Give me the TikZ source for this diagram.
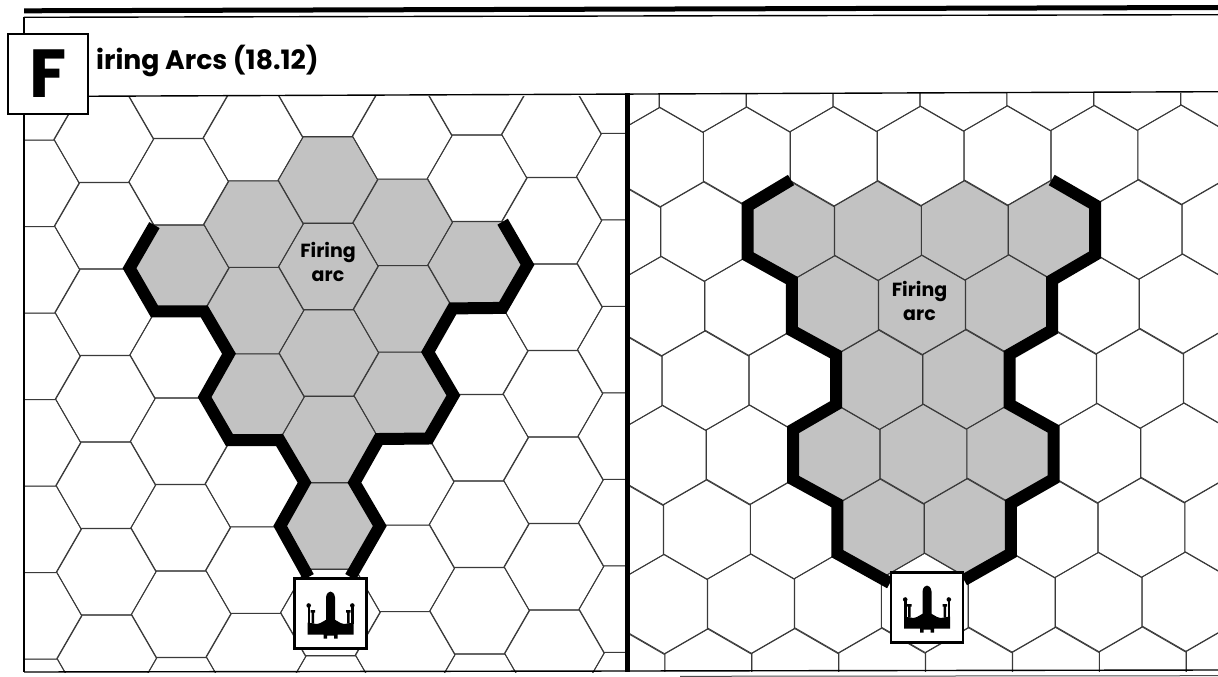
\documentclass[tikz,border=0pt]{standalone}
\usepackage{fontspec}
\setmainfont{Poppins}
\usetikzlibrary{positioning}
\definecolor{arcgray}{HTML}{C2C2C2}
\definecolor{gridink}{HTML}{3A3A3A}
\tikzset{
  panel text/.style={font=\fontsize{19}{24}\selectfont\bfseries, text=black, align=center},
  hex line/.style={draw=gridink, line width=0.9pt},
  hex gray/.style={fill=arcgray},
  arc line/.style={draw=black, line width=12pt, line join=miter},
  frame line/.style={draw=black, line width=1.4pt},
  ship box/.style={draw=black, line width=2.6pt, fill=white, minimum width=72pt, minimum height=70pt},
  flat hex/.pic={\path[pic actions] (0:49.8)--(60:49.8)--(120:49.8)--(180:49.8)--(240:49.8)--(300:49.8)--cycle;},
  tall hex/.pic={\path[pic actions] (30:50)--(90:50)--(150:50)--(210:50)--(270:50)--(330:50)--cycle;},
  ship/.pic={
    \fill (-4.5,21) -- (-4.5,-16) .. controls (-3.5,-24) and (3.5,-24) .. (4.5,-16) -- (4.5,21) -- cycle;
    \fill (-23,21) -- (-23,9) -- (-17,10) .. controls (-12,12) and (-8,8) .. (-4,6) -- (4,6)
      .. controls (8,8) and (12,12) .. (17,10) -- (23,9) -- (23,21) -- (7,21) -- (7,25) -- (3.5,25)
      -- (3.5,22) -- (-3.5,22) -- (-3.5,25) -- (-7,25) -- (-7,21) -- cycle;
    \fill (-23,10) rectangle (-20.5,-7);
    \fill (20.5,10) rectangle (23,-7);
    \fill (-21.8,-8) circle (2.3) (21.8,-8) circle (2.3);
    \fill (-19,10) rectangle (-16.5,-2) (16.5,-2) rectangle (19,10);
    \fill (-20,-1) rectangle (-15.5,-3.5) (15.5,-1) rectangle (20,-3.5);
  }
}
\newcommand{\flatcell}[3]{%
  \pgfmathsetmacro{\cx}{328+#2*74.6+#3*0.5}%
  \pgfmathsetmacro{\cy}{180+#3*86.5+mod(abs(#2),2)*43.25-#2*0.85}%
  \pic[#1] at (\cx,\cy) {flat hex};}
\newcommand{\tallcell}[3]{%
  \pgfmathsetmacro{\cx}{791+#2*86.9+mod(abs(#3),2)*43.4+#3*0.7}%
  \pgfmathsetmacro{\cy}{231+#3*74.5-#2*0.4}%
  \pic[#1] at (\cx,\cy) {tall hex};}

\begin{document}
\begin{tikzpicture}[x=1pt, y=-1pt]
  \useasboundingbox (0,0) rectangle (1218,677);
  \fill[white] (0,0) rectangle (1218,677);

  % left panel
  \begin{scope}
    \clip (24,96) rectangle (627,672);
    \foreach \c/\r in {0/0,-1/0,1/0,-2/1,0/1,2/1,-1/1,1/1,0/2,-1/2,1/2,0/3,0/4} {
      \flatcell{hex gray}{\c}{\r}
    }
    \foreach \c in {-5,...,5} {
      \foreach \r in {-2,...,7} {
        \flatcell{hex line}{\c}{\r}
      }
    }
  \end{scope}

  % right panel
  \begin{scope}
    \clip (627,93) rectangle (1218,671);
    \foreach \c/\r in {0/0,1/0,2/0,3/0,0/1,1/1,2/1,1/2,2/2,0/3,1/3,2/3,1/4,2/4} {
      \tallcell{hex gray}{\c}{\r}
    }
    \foreach \r in {-2,...,7} {
      \foreach \c in {-3,...,6} {
        \tallcell{hex line}{\c}{\r}
      }
    }
  \end{scope}

  % firing arc outlines
  \draw[arc line] (154.4,225.1)--(129.5,268.2)--(154.4,311.3)--(204.2,311.3)--(229,353.7)
    --(204.6,397.1)--(229.5,440.2)--(279.5,440)--(304.6,482.6)--(280.2,526)--(308.5,577);
  \draw[arc line] (502.6,221.7)--(527.5,264.8)--(502.6,307.9)--(452.8,308.4)--(428,352)
    --(453.4,395.4)--(428.5,438.5)--(379,439)--(354.4,482.6)--(379.8,526)--(350.5,577);
  \draw[arc line] (791,180)--(747.7,206)--(747.7,256)--(791.8,280.5)--(791.8,330.5)--(836,354.7)
    --(836,404.7)--(793.2,429.5)--(793.2,479.5)--(837.4,503.7)--(837.4,553.7)--(890,583);
  \draw[arc line] (1051.7,180)--(1095,205)--(1095,255)--(1052.2,280)--(1052.2,330)--(1009.5,354.4)
    --(1009.5,404.4)--(1053.6,429)--(1053.6,479)--(1010.9,503.4)--(1010.9,553.4)--(964,580);

  % frame
  \fill (24,8.3) -- (1218,5) -- (1218,10) -- (24,13.3) -- cycle;
  \draw[frame line] (24,17.3) -- (1218,14.7);
  \draw[frame line] (24,17.3) -- (24,672);
  \draw[frame line] (24,96.5) -- (1218,91.7);
  \draw[frame line] (24,672) -- (627,671) -- (1218,670);
  \draw[draw=black!70, line width=1pt] (680,676.3) -- (1218,675.7);
  \draw[draw=black, line width=4.5pt] (627.5,93) -- (627.5,672);

  \node[draw=black, line width=1.3pt, fill=white, minimum width=80pt, minimum height=80pt, inner sep=0pt] (letterbox) at (48,74) {};
  \node[font=\fontsize{68}{68}\selectfont\bfseries, inner sep=0pt] (bigletter) at (letterbox) {F};
  \node[font=\fontsize{26.7}{28}\selectfont\bfseries, anchor=base west, inner sep=0pt] (arcs title) at (96,70) {iring Arcs (18.12)};

  \node[panel text] (left label) at (328,262) {Firing\\arc};
  \node[panel text] (right label) at (919.5,301) {Firing\\arc};

  \node[ship box] (left ship) at (330.5,613.5) {};
  \node[ship box] (right ship) at (927,607.5) {};
  \pic at (left ship) {ship};
  \pic at (right ship) {ship};
\end{tikzpicture}
\end{document}
